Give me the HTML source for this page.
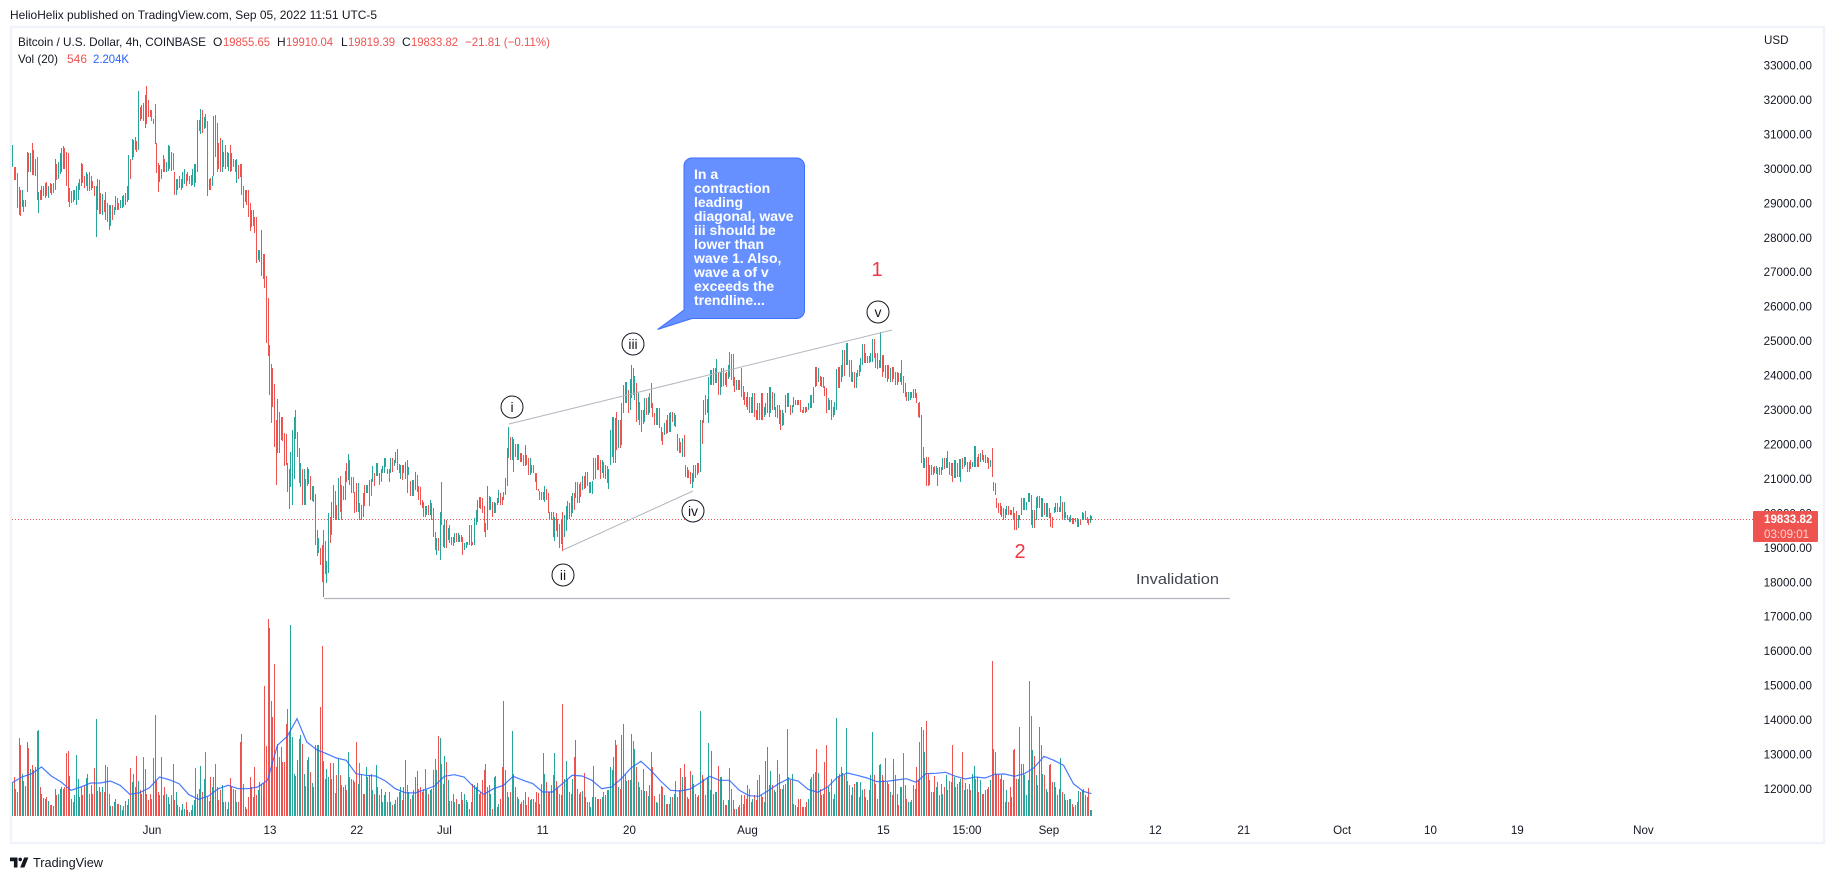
<!DOCTYPE html>
<html lang="en">
<head>
<meta charset="utf-8">
<title>Bitcoin / U.S. Dollar 4h chart</title>
<style>
html,body{margin:0;padding:0;background:#fff;width:1834px;height:879px;overflow:hidden}
svg{display:block;font-family:"Liberation Sans",sans-serif}
.axis{font-size:11.6px;fill:#131722}
.legend{font-size:12px;fill:#131722}
.red{fill:#ef5350}
.note{font-size:14px;font-weight:bold;fill:#fff}
.wave{font-size:14px;fill:#131722;text-anchor:middle}
</style>
</head>
<body>
<svg id="chart" width="1834" height="879" viewBox="0 0 1834 879" xmlns="http://www.w3.org/2000/svg">
  <text x="10" y="19" font-size="12" fill="#131722" textLength="367" lengthAdjust="spacingAndGlyphs">HelioHelix published on TradingView.com, Sep 05, 2022 11:51 UTC-5</text>
  <rect x="11" y="27" width="1813" height="816" fill="#fff" stroke="#f0f3fa" stroke-width="2.5"/>

  <g>
    <line id="lastLine" x1="12" x2="1754" stroke="#ef5350" stroke-width="1" stroke-dasharray="1 2"/>
  </g>
  <g id="volumes"></g>
  <polyline id="maLine" fill="none" stroke="#2962ff" stroke-opacity="0.85" stroke-width="1.2"/>
  <g id="candles"></g>
  <g id="priceAxis"></g>
  <g id="timeAxis"></g>

  <g>
    <text class="legend" x="18" y="46" textLength="188" lengthAdjust="spacingAndGlyphs">Bitcoin / U.S. Dollar, 4h, COINBASE</text>
    <text class="legend" x="213" y="46">O</text>
    <text class="legend red" x="223" y="46" textLength="47" lengthAdjust="spacingAndGlyphs">19855.65</text>
    <text class="legend" x="277" y="46">H</text>
    <text class="legend red" x="286" y="46" textLength="47" lengthAdjust="spacingAndGlyphs">19910.04</text>
    <text class="legend" x="341" y="46">L</text>
    <text class="legend red" x="348" y="46" textLength="47" lengthAdjust="spacingAndGlyphs">19819.39</text>
    <text class="legend" x="402" y="46">C</text>
    <text class="legend red" x="411" y="46" textLength="47" lengthAdjust="spacingAndGlyphs">19833.82</text>
    <text class="legend red" x="465" y="46" textLength="85" lengthAdjust="spacingAndGlyphs">−21.81 (−0.11%)</text>
    <text class="legend" x="18" y="63" textLength="40" lengthAdjust="spacingAndGlyphs">Vol (20)</text>
    <text class="legend red" x="67" y="63">546</text>
    <text class="legend" x="93" y="63" style="fill:#2962ff" textLength="36" lengthAdjust="spacingAndGlyphs">2.204K</text>
  </g>

  <text class="axis" x="1764" y="44">USD</text>

  <g>
    <rect x="1753" y="511" width="65" height="31" fill="#ef5350" rx="1"/>
    <text x="1764" y="523" font-size="11.6" font-weight="bold" fill="#fff">19833.82</text>
    <text x="1764" y="538" font-size="11.6" fill="#ffd0ce">03:09:01</text>
  </g>

  <g>
    <line x1="509" y1="424" x2="892" y2="330" stroke="#b2b5be" stroke-width="1"/>
    <line x1="563" y1="550" x2="693" y2="491" stroke="#b2b5be" stroke-width="1"/>
    <line x1="324" y1="598.5" x2="1230" y2="598.5" stroke="#b2b5be" stroke-width="1.2"/>
    <text x="1136" y="584" font-size="15" fill="#434651" textLength="83" lengthAdjust="spacingAndGlyphs">Invalidation</text>

    <circle cx="512" cy="407" r="11" fill="#fff" stroke="#131722" stroke-width="1"/>
    <text class="wave" x="512" y="412">i</text>
    <circle cx="563" cy="575" r="11" fill="#fff" stroke="#131722" stroke-width="1"/>
    <text class="wave" x="563" y="580">ii</text>
    <circle cx="633" cy="344" r="11" fill="#fff" stroke="#131722" stroke-width="1"/>
    <text class="wave" x="633" y="349">iii</text>
    <circle cx="693" cy="511" r="11" fill="#fff" stroke="#131722" stroke-width="1"/>
    <text class="wave" x="693" y="516">iv</text>
    <circle cx="878" cy="312" r="11" fill="#fff" stroke="#131722" stroke-width="1"/>
    <text class="wave" x="878" y="317">v</text>

    <text x="877" y="276" font-size="20" fill="#f23645" text-anchor="middle">1</text>
    <text x="1020" y="558" font-size="20" fill="#f23645" text-anchor="middle">2</text>

    <g>
      <path d="M691.5 158H796.5a8 8 0 0 1 8 8V310.5a8 8 0 0 1-8 8H692L657.5 329.5L684 310V166a8 8 0 0 1 7.5-8Z" fill="#6690ff" stroke="#3d6fff" stroke-width="1"/>
      <text class="note" x="694" y="179">In a</text>
      <text class="note" x="694" y="193">contraction</text>
      <text class="note" x="694" y="207">leading</text>
      <text class="note" x="694" y="221">diagonal, wave</text>
      <text class="note" x="694" y="235">iii should be</text>
      <text class="note" x="694" y="249">lower than</text>
      <text class="note" x="694" y="263">wave 1. Also,</text>
      <text class="note" x="694" y="277">wave a of v</text>
      <text class="note" x="694" y="291">exceeds the</text>
      <text class="note" x="694" y="305">trendline...</text>
    </g>
  </g>

  <g>
    <path d="M10 857.5h7.5v10h-3.6v-6.3H10Z" fill="#131722"/>
    <circle cx="20.2" cy="859.4" r="1.8" fill="#131722"/>
    <path d="M24.2 857.5H28.4L24.4 867.5H20.2Z" fill="#131722"/>
    <text x="33" y="867" font-size="13" fill="#131722" textLength="70" lengthAdjust="spacingAndGlyphs">TradingView</text>
  </g>
</svg>

<script>
const lastPrice = 19833.82;
const firstOpen = 30100;
const highs = [
30690,30060,30060,29870,29480,29390,
29390,29100,29100,30500,30450,30450,
30750,30550,30300,30330,29340,29400,
29500,29500,29600,29620,29500,29580,
29550,29600,30300,30150,30200,30450,
30600,30650,30600,30500,30450,29450,
29350,29400,29400,29500,29600,29700,
30180,30150,29800,29900,29850,29900,
29800,29650,29500,29500,29700,29680,
29300,29280,29100,29320,29000,28950,
28950,28950,28900,29200,29150,29000,
29100,29200,29250,29300,29500,30400,
30280,30880,30850,30930,30800,32270,
31800,31850,31900,32150,32400,32000,
31700,31700,31450,31880,30740,30160,
30110,30000,30400,30300,30200,30680,
30650,30500,30450,29900,29700,29700,
29780,29700,29900,30000,29850,29900,
29800,29820,30000,30150,30150,31420,
31420,31750,31700,31500,31580,31400,
29700,29720,29800,31540,31550,31320,
30750,30900,30850,30500,30700,30500,
30450,30700,30450,30300,30250,30300,
30100,30150,30150,29500,29400,29400,
29400,29000,28800,28800,28600,28600,
27650,27650,28225,27530,27530,26890,
26240,24900,24335,24210,23755,22710,
23320,22950,22790,22800,22320,22300,
21450,21290,21770,22420,22800,23000,
22370,21890,21450,21300,21300,21010,
21340,21300,21070,20800,20780,20550,
19520,19280,19000,19080,19520,19200,
18620,20000,19900,20340,20820,20660,
20240,21020,21070,20820,20780,21240,
21450,21720,21550,21050,21050,20630,
20890,20890,20290,20240,20580,20820,
20820,20820,20970,21000,21360,21160,
21450,21450,21160,21300,21360,21600,
21600,21300,21300,21600,21600,21550,
21790,21860,21430,21400,21400,21400,
21500,21550,21340,20950,20970,20970,
21190,21110,20800,20760,20390,20340,
20200,20200,20240,20400,20300,20150,
19470,19280,19280,20050,20900,19660,
19810,19810,19570,19660,19320,19320,
19420,19420,19420,19370,19370,19320,
19130,19180,19180,19660,19660,19180,
19860,20100,20390,20480,20480,20440,
20200,19710,20780,20500,20480,20340,
20340,20290,20440,20680,20600,20480,
20630,21020,21890,22500,22230,22230,
22150,22000,22000,22000,21750,21750,
21700,21990,21700,21600,21600,21400,
21400,21160,21160,20700,20650,20630,
20630,20780,20700,20580,20050,20050,
20050,19900,20000,19850,19700,19800,
20050,19950,20200,20350,20300,20500,
20580,20600,20920,20900,20850,20920,
21070,21070,21210,21210,20920,20920,
20950,21600,21600,21700,21700,21550,
21550,21500,21400,21380,21300,22420,
22810,22810,22760,22950,22710,22700,
23190,23730,23820,23820,23580,23900,
24310,24210,24000,23780,23500,23240,
23000,23000,23340,23340,23390,23500,
23780,23200,22900,23050,23050,23050,
22500,22370,22620,22700,22860,22900,
22950,22950,22900,22850,22300,22200,
22080,22200,22270,21400,21350,21260,
21200,21160,21400,21400,21450,21450,
22710,22710,23290,23440,23310,23970,
24160,24160,24210,24210,24480,24110,
24110,24210,24210,24070,24110,24300,
24680,24630,24620,23970,23870,23870,
23870,24210,23700,23530,23390,23530,
23390,23390,23480,23480,23000,23190,
23190,23480,23480,23100,23200,23480,
23680,23680,23530,23500,23100,23150,
23150,23000,23000,22900,23440,23480,
23480,23150,23150,23390,23290,23300,
23300,23290,23000,23100,23100,23100,
23190,23440,23440,23680,24260,24260,
24210,24000,23970,23970,23700,23630,
23340,23300,23290,23100,23240,24200,
24260,24260,24300,24740,24740,24950,
24950,24450,24450,24110,24100,24060,
24160,24300,24500,24920,24920,24650,
24570,24570,24650,25060,25060,24650,
24650,24450,25255,24600,24600,24300,
24310,24310,24210,24260,24260,24110,
24110,24070,24070,24450,24000,23780,
23530,23530,23530,23530,23600,23600,
23480,23200,23240,22860,21940,21600,
21650,21650,21400,21400,21340,21380,
21380,21310,21340,21340,21600,21600,
21600,21820,21500,21450,21450,21550,
21550,21450,21570,21570,21600,21650,
21650,21500,21500,21550,21500,21950,
21950,21650,21720,21750,21840,21700,
21700,21650,21600,21550,21890,20900,
20870,20440,20300,20290,20200,20150,
20120,20200,20200,20100,20100,20195,
20000,20080,19950,19950,20440,20440,
20440,20340,20580,20580,20530,20100,
20100,20485,20490,20490,20440,20440,
20290,20290,20290,20150,20000,19900,
20195,20290,20290,20195,20490,20340,
20340,20050,19950,19900,19950,19860,
19860,19860,19860,19850,19810,20050,
20000,20070,19900,19850,19950,19910
];
const lows = [
30060,29680,29680,28860,28660,28630,
28900,28750,28900,29340,29900,29900,
29820,29820,29800,29100,28730,29100,
29100,29200,29150,29200,29150,29290,
29250,29300,29400,29680,29700,29850,
29900,30000,30000,29500,29050,28900,
29000,29050,29100,28950,29100,29400,
29500,29600,29450,29500,29350,29350,
29400,29450,29200,28030,28800,28700,
28700,28650,28750,28520,28450,28230,
28330,28520,28650,28800,28800,28800,
28850,28850,28900,28950,29050,29100,
29700,30250,30350,30550,30500,30550,
31400,31450,31400,31200,31300,31500,
31500,31400,31300,30720,29890,29340,
29630,29700,29900,29900,29900,29950,
30000,29950,29960,29240,29250,29400,
29450,29400,29450,29550,29500,29650,
29560,29500,29520,29480,29600,29900,
31100,31000,31050,31150,31200,29220,
29400,29400,29500,29780,30350,29900,
30000,29900,29900,30050,30000,30060,
29950,29920,29950,30050,29900,29580,
29700,29750,29240,28850,29050,28950,
28600,28200,28300,28350,28130,27280,
27350,27300,26900,26800,26550,24935,
24570,23435,22630,23100,21936,20825,
21740,21740,22130,22100,21375,21400,
20630,20120,20775,20240,21000,22160,
21640,20870,20775,20240,20240,20240,
20800,20850,20390,20350,20340,19080,
18750,18850,18500,18020,17580,18230,
17970,18260,19130,19370,19860,19810,
19810,19810,20050,19810,20390,20390,
20920,20970,20820,20580,20580,20000,
20030,20030,19810,19810,19900,20200,
20580,20580,20200,20500,20920,20780,
21070,21070,20820,20900,21160,21160,
21350,21150,20920,21160,21200,21360,
21450,21260,21160,21000,20970,21160,
21000,20580,21110,20510,20490,20490,
20680,20630,20400,20240,20150,19900,
19900,19950,19950,19950,19800,19320,
18940,18800,18900,18650,19660,19030,
19000,19000,19230,19130,19080,19050,
19150,19180,19180,19180,19180,18790,
18940,18990,19080,19080,19060,19080,
19080,19660,19760,20150,20140,20000,
19470,19320,19520,20100,20100,19900,
20000,20000,20240,20290,20240,20240,
20390,20530,20780,21600,21550,21550,
21210,21650,21550,21550,21500,21500,
21360,21360,21400,21100,21100,21160,
21160,20900,20680,20650,20400,20390,
20390,20340,20400,20000,19800,19800,
19300,19200,19500,19300,19000,19100,
18900,19300,19500,19800,19850,19900,
20000,20100,20440,20300,20300,20480,
20680,20700,20730,20800,20580,20600,
20550,20970,21000,21260,21250,21000,
21160,21020,21000,20870,20700,21400,
21650,21450,21450,21840,21890,21890,
21980,22900,23190,23190,22900,23000,
23340,23440,23300,22660,22700,22560,
22370,22600,22660,22860,22860,22900,
23050,22800,22570,22570,22570,22470,
22100,21985,22280,22300,22320,22370,
22370,22660,22550,22520,21800,21750,
21740,21650,21650,21060,21020,21020,
20850,20730,20900,21020,21100,21160,
21210,22000,22610,22860,22900,22610,
23730,23730,23730,23780,23780,23440,
23440,23680,23700,23730,23680,23900,
23970,23870,23700,23530,23580,23580,
23580,23390,23300,23150,23100,23000,
22900,22900,22900,22800,22710,22700,
22700,22700,22710,22800,22850,22900,
22810,22900,23000,23000,22810,22760,
22600,22420,22550,22570,22900,23100,
23100,22860,22900,23100,23150,23150,
23150,22950,22900,22900,22900,22950,
23000,23050,23050,23190,23680,23700,
23820,23700,23680,23630,23400,22900,
23000,23000,22710,22800,22860,23000,
23630,23630,23800,23970,24000,24300,
24300,23970,23800,23820,23630,23630,
23970,24000,24110,24300,24350,24350,
24350,24350,24400,24400,24500,24210,
24200,24210,24210,23970,24100,23920,
23820,23900,23820,23820,23900,23730,
23730,23820,23820,23730,23500,23390,
23250,23250,23300,23340,23340,23350,
23190,22800,22760,21450,21310,21310,
20790,20800,20820,21100,21110,21160,
21150,20780,21100,21100,21260,21300,
21310,21310,21100,21085,20920,21020,
21020,21060,21050,20920,21300,21350,
21400,21200,21200,21300,21350,21350,
21350,21350,21340,21500,21550,21500,
21450,21450,21300,21340,21060,20660,
20530,20150,20000,19950,19900,19810,
19860,19950,19950,19950,19950,19810,
19520,19520,19570,19800,19950,20100,
20100,20100,20340,20340,19660,19570,
19570,19810,20150,20150,19900,19900,
19950,19900,19900,19860,19600,19570,
20000,20050,20050,20050,20050,19810,
19810,19860,19800,19760,19760,19680,
19700,19760,19610,19610,19660,19810,
19850,19810,19710,19660,19710,19820
];
const closes = [
30650,30100,29750,29100,28800,28700,
29100,28950,29050,30300,30200,30350,
29900,30250,29900,29200,29300,29150,
29400,29250,29500,29350,29450,29300,
29500,29400,30150,29900,30000,30300,
30450,30500,30100,29900,29300,29150,
29300,29100,29250,29400,29500,29550,
29950,29700,29550,29700,29500,29650,
29550,29500,29000,29350,29450,29050,
28850,28950,28850,29100,28700,28450,
28800,28750,28850,29050,28950,28900,
29000,29150,29050,29200,29400,30300,
30150,30750,30400,30650,30600,32000,
31550,31750,31500,32000,31950,31700,
31650,31500,31600,30800,30000,29500,
29950,29800,30250,30000,30100,30600,
30150,30400,30050,29400,29550,29450,
29650,29500,29700,29850,29650,29800,
29700,29600,29900,30050,29850,31200,
31150,31550,31300,31400,31250,29500,
29600,29500,29750,31400,31000,30800,
30350,30050,30600,30300,30400,30250,
30300,30100,30200,30100,29950,30150,
29900,29800,29400,29000,29200,29050,
28700,28350,28600,28500,28250,27350,
27600,27450,27700,27000,26700,25100,
24700,23600,23200,23150,22300,21800,
23100,22200,22600,22300,22000,21600,
20900,20500,21500,22000,22600,22400,
21800,21000,21200,20500,20900,20600,
20900,21100,20500,20600,20450,19400,
18950,19050,18700,18200,19100,18300,
18400,19700,19400,20100,20500,20000,
19950,20900,20300,20000,20700,21100,
21050,21650,21200,20800,20650,20300,
20200,20500,20000,20100,20500,20300,
20700,20600,20900,20850,21250,20850,
21100,21350,20950,21200,21300,21500,
21450,21250,21000,21500,21250,21450,
21750,21400,21200,21250,21100,21300,
21350,20700,21150,20600,20800,20650,
21000,20700,20500,20350,20300,20050,
19950,20100,20000,20300,19850,19500,
19000,19150,18950,19950,19700,19200,
19600,19100,19450,19200,19150,19250,
19350,19250,19350,19250,19300,18950,
19000,19100,19150,19600,19150,19130,
19800,19950,20300,20400,20200,20100,
19600,19450,20600,20200,20300,20000,
20250,20150,20400,20600,20350,20300,
20600,20950,21800,22350,21750,21900,
21500,21900,21650,21750,21550,21700,
21500,21900,21550,21200,21400,21250,
21200,21000,20800,20700,20500,20450,
20500,20650,20450,20100,19950,19850,
19500,19850,19600,19400,19150,19700,
19200,19800,20100,20000,20250,20400,
20500,20300,20700,20450,20800,20550,
20950,20750,21100,20900,20700,20850,
20900,21500,21150,21600,21350,21100,
21200,21050,21300,20900,21250,22300,
22500,21800,22400,21950,22550,22100,
22900,23600,23300,23600,23100,23700,
24100,23500,23700,22900,23100,22700,
22600,22800,23200,22950,23300,23100,
23300,22900,22650,22950,22700,22500,
22150,22100,22550,22400,22750,22500,
22800,22700,22850,22550,21900,22000,
21850,22100,21700,21150,21250,21100,
20950,21050,21300,21100,21400,21250,
22500,22300,23200,23000,23250,23800,
23900,24050,23850,24150,24350,23550,
23700,24100,23800,24000,23750,24200,
24500,24000,23950,23700,23800,23650,
23800,23500,23400,23250,23150,23400,
23100,22950,23300,23000,22800,23100,
22800,23350,22900,23000,23100,23400,
23100,23500,23100,23200,22900,23000,
22800,22500,22850,22650,23300,23150,
23350,23000,23100,23300,23200,23250,
23200,23050,23000,22950,23050,23000,
23150,23350,23250,23600,24100,23800,
23950,23750,23900,23700,23500,23100,
23200,23100,22850,23050,23150,24050,
23800,24150,24200,24600,24100,24350,
24400,24050,23900,24000,23700,23950,
24100,24050,24450,24800,24400,24600,
24500,24400,24600,24950,24550,24350,
24250,24400,25000,24150,24350,24000,
24200,24000,24100,23950,24150,23800,
24000,23900,24000,23850,23700,23500,
23350,23400,23450,23500,23420,23500,
23250,22900,22800,21600,21500,21550,
21000,20950,21300,21150,21250,21200,
21250,20900,21300,21150,21550,21350,
21400,21700,21350,21200,21100,21450,
21250,21350,21100,21500,21400,21550,
21600,21300,21450,21400,21450,21850,
21500,21600,21400,21700,21550,21650,
21500,21550,21400,21450,21100,20700,
20600,20200,20150,20000,20100,19900,
20000,20100,20050,20000,20050,19900,
19700,19650,19900,19850,20350,20150,
20200,20300,20500,20400,19750,20000,
19800,20400,20300,20350,20000,20300,
20050,20150,19950,20000,19750,19700,
20150,20250,20100,20150,20400,19900,
19950,19900,19850,19800,19900,19750,
19800,19780,19650,19800,19700,19980,
19950,19820,19780,19700,19855,19834
];
const volumes = [
2970,3510,2400,2160,7020,6360,
3750,3120,2700,6660,6120,4260,
4560,4110,4410,7650,7710,2610,
1950,1650,1500,1710,1320,960,
960,870,2400,1860,2010,2460,
2610,2400,2610,5670,5820,3600,
1560,1260,1860,5460,3360,1710,
2610,1860,2760,3420,3810,2010,
2760,2010,4290,8700,2220,2610,
2160,2610,2160,4560,4410,2010,
870,870,1260,1560,1050,1050,
960,510,870,1320,960,1560,
4290,3060,3750,2610,5400,3150,
2310,2010,5280,4200,2010,1410,
2010,1560,5220,9060,3120,2160,
1860,5280,1860,2610,2010,1710,
1110,1860,4650,1410,2160,960,
810,510,1110,600,1260,510,
360,510,960,1410,4350,2010,
2460,4500,2160,3300,5730,1710,
1350,3510,2610,3510,4650,2610,
1410,2310,2760,1260,1260,660,
1260,3450,2610,2460,2310,1260,
1260,6630,7350,2910,810,660,
1710,3510,2610,1710,4410,1860,
2310,3060,2910,2970,11670,6270,
17700,16890,10320,8880,13650,4410,
6510,5310,6210,4860,4860,8310,
9600,7530,17160,7110,3750,3570,
5010,6960,7260,6510,3810,2670,
5010,5310,3960,2970,2610,6420,
6420,6420,9780,15270,4920,3360,
4260,3510,4770,3360,4770,2100,
3660,5160,3660,2760,2610,2760,
2310,5730,3510,3360,3210,3060,
6630,2910,4800,3660,2010,2010,
4380,3510,3660,3810,2310,2010,
4560,2610,1860,2460,1260,1860,
2160,1260,2160,1260,960,1050,
1410,1710,2160,2610,1410,2610,
5010,2760,2160,1560,1860,2310,
3510,4020,2460,2610,2160,2460,
4200,2310,2010,2310,2460,4110,
5100,4110,7170,6990,4650,2910,
5370,4860,3210,1350,1350,2010,
1260,1560,1110,1110,2160,1410,
2010,1410,1260,660,1260,2910,
2760,2610,2970,2010,2160,3210,
4110,4710,2610,2760,2010,660,
3510,3600,810,1110,1560,4410,
10350,4170,2160,1710,2160,7620,
3810,2610,1710,1560,1110,1260,
1410,2160,960,1710,1410,1560,
1560,1260,2160,2070,1110,2910,
5640,3810,3060,2160,2160,2760,
3660,5640,3120,2610,2010,1920,
10050,3360,4920,3360,2160,2010,
3360,5280,6810,2460,2010,2160,
2220,3900,1710,1260,1260,810,
1710,4470,1710,1500,1560,1560,
1710,2160,1860,2310,2310,4410,
4110,5310,6810,6360,2610,2400,
7260,8250,3810,3120,3210,3210,
7350,6720,6000,4410,3060,2610,
2310,4260,2220,2220,1770,2760,
5730,4410,1770,1260,1200,1950,
2700,2610,1860,1110,1110,1110,
1710,1710,2010,3120,1710,2310,
4290,3510,4650,3510,1710,1560,
4050,3660,2910,2010,1710,1860,
9420,3660,3360,1860,3510,6540,
2310,5820,2010,2160,2160,4470,
3510,3510,1410,960,960,1410,
4290,2400,1410,660,660,810,
960,1860,1110,1860,1560,2760,
2460,1260,1560,1860,1410,3210,
3660,1860,1710,1260,4920,6180,
2760,4050,2760,2310,2160,5010,
3810,2460,2460,2760,2910,7800,
3510,3210,3810,1110,1020,810,
1560,1560,810,810,810,1260,
1560,3360,3510,3810,3960,6000,
3900,2460,1920,2010,4830,6360,
2610,2160,3360,1560,2010,8790,
3510,3810,4410,3870,3660,7890,
3120,2760,1860,2610,2910,3060,
3060,1710,3060,2310,2460,1710,
1410,2310,3660,7530,3660,2910,
1560,4560,4710,3660,3210,5190,
3060,2910,2160,1860,5100,3660,
2010,960,2610,2610,5640,2760,
1560,1260,1260,1410,2760,2460,
4410,3210,6630,7980,7710,5760,
8520,3810,3210,2160,2160,3570,
2610,3060,1860,2910,2010,2610,
3660,2310,3120,3060,6360,3510,
2610,2910,3060,3360,5730,2310,
2940,2460,2910,2310,3810,4470,
3360,3510,2160,3210,2010,2010,
2310,2460,2610,3210,13920,6000,
5730,3810,3810,3360,3660,3210,
1260,2310,1260,2610,1710,5910,
6000,3360,3360,7980,4710,4710,
3660,1860,3210,12120,8970,5910,
5370,3660,2760,7980,6360,3810,
3660,2460,2160,4560,4710,3060,
3060,2610,1860,2460,5190,2160,
2010,1410,1410,1560,1560,1110,
810,960,1260,2220,2160,2310,
2400,1860,1710,2490,510,510
];
const maDaily = [
2970,3510,3810,4410,3600,3060,2310,2610,2970,2970,3150,2760,1950,2100,2550,3510,3270,2910,1920,1500,
1800,2460,2760,2460,2460,2610,3210,6360,7170,8760,6660,5970,5610,5220,5010,3810,3660,3600,3150,2460,
2100,2070,2370,2700,3570,3720,3510,2610,1950,2460,2760,3570,3210,2910,2160,2160,2910,3660,3600,3210,
2460,2610,3360,4350,4920,4110,3150,2310,2250,2430,2970,3570,3210,3210,2310,1830,1770,2310,2910,3360,
3150,2400,2130,2610,3510,3870,3660,3420,3090,3120,3240,3360,3030,3810,3840,3930,3570,3330,3510,3420,
3750,3780,3570,3810,4350,5370,5010,4560,2910,2220,2010
];
const priceTicks = [33000,32000,31000,30000,29000,28000,27000,26000,25000,24000,23000,22000,21000,20000,19000,18000,17000,16000,15000,14000,13000,12000];
const timeLabels = ['Jun','13','22','Jul','11','20','Aug','15','15:00','Sep','12','21','Oct','10','19','Nov'];
const timeLabelBars = [85.5,157.5,210.5,264,324,377,449,532,583,633,698,752,812,866,919,996];

const SVG_NS = 'http://www.w3.org/2000/svg';
const yPrice = p => 65.5 + (33000 - p) * 0.03445;
const xBar = i => 12 + i * 1.638;
const yVol = v => 816 - v / 90;
const UP = '#26a69a';
const DOWN = '#ef5350';

function rect(parent, x, y, w, h, fill) {
  const el = document.createElementNS(SVG_NS, 'rect');
  el.setAttribute('x', x);
  el.setAttribute('y', y);
  el.setAttribute('width', w);
  el.setAttribute('height', h);
  el.setAttribute('fill', fill);
  parent.appendChild(el);
  return el;
}

const line = document.getElementById('lastLine');
line.setAttribute('y1', Math.round(yPrice(lastPrice)) + 0.5);
line.setAttribute('y2', Math.round(yPrice(lastPrice)) + 0.5);

const candleGroup = document.getElementById('candles');
const volumeGroup = document.getElementById('volumes');
for (let i = 0; i < closes.length; i++) {
  const open = i === 0 ? firstOpen : closes[i - 1];
  const close = closes[i];
  const color = close >= open ? UP : DOWN;
  const x = Math.round(xBar(i));
  const top = Math.round(yPrice(highs[i]));
  const bottom = Math.round(yPrice(lows[i]));
  const wick = rect(candleGroup, x, top, 1, Math.max(1, bottom - top), color);
  
  
  const bodyTop = Math.round(yPrice(Math.min(highs[i], Math.max(open, close))));
  const bodyBottom = Math.round(yPrice(Math.max(lows[i], Math.min(open, close))));
  const body = rect(candleGroup, x, bodyTop, 1, Math.max(1, bodyBottom - bodyTop), color);
  
  
  const volTop = Math.round(yVol(volumes[i]));
  const bar = rect(volumeGroup, x, volTop, 1, 816 - volTop, color);
  
  
}

const maPoints = maDaily.map((v, d) => Math.min(xBar(d * 6), xBar(659)).toFixed(1) + ',' + yVol(v).toFixed(1));
document.getElementById('maLine').setAttribute('points', maPoints.join(' '));

const priceAxis = document.getElementById('priceAxis');
priceTicks.forEach(p => {
  const t = document.createElementNS(SVG_NS, 'text');
  t.setAttribute('class', 'axis');
  t.setAttribute('x', 1812);
  t.setAttribute('y', (yPrice(p) + 4).toFixed(1));
  t.setAttribute('text-anchor', 'end');
  
  
  t.textContent = p.toFixed(2);
  priceAxis.appendChild(t);
});

const timeAxis = document.getElementById('timeAxis');
timeLabels.forEach((label, k) => {
  const t = document.createElementNS(SVG_NS, 'text');
  t.setAttribute('class', 'axis');
  t.setAttribute('x', xBar(timeLabelBars[k]).toFixed(1));
  t.setAttribute('y', 834);
  t.setAttribute('text-anchor', 'middle');
  
  
  t.textContent = label;
  timeAxis.appendChild(t);
});
</script>
</body>
</html>
